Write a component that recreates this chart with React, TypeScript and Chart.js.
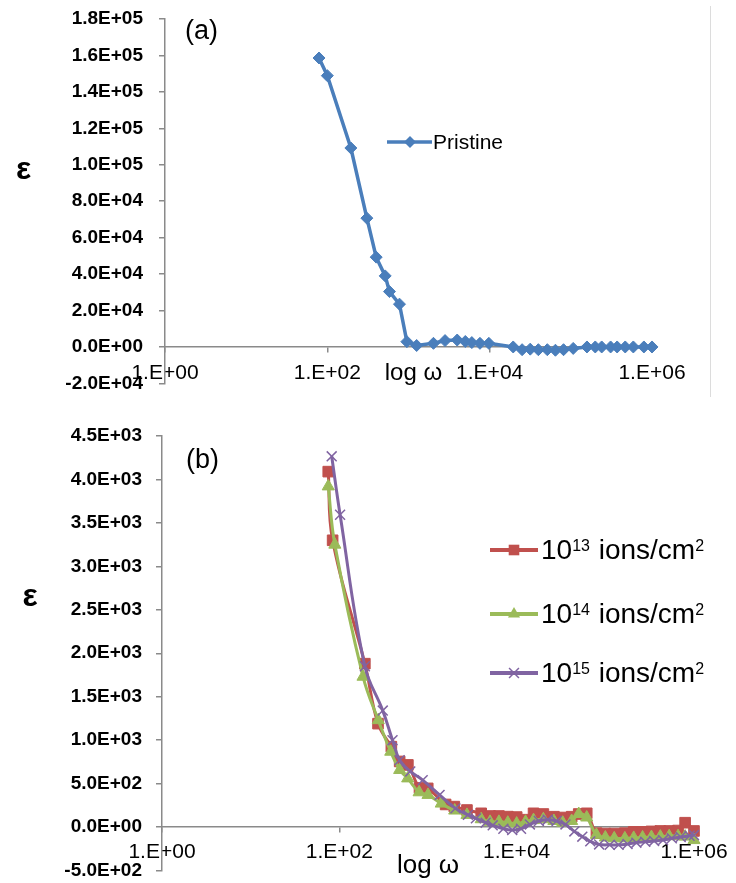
import React, { useEffect, useRef } from 'react';
import { Chart, registerables } from 'chart.js';

Chart.register(...registerables);

const FONT = '"Liberation Sans", Arial, sans-serif';
const AXIS = '#8a8a8a';

// ---------- shared axis data ----------
const xTickValues = [1, 100, 10000, 1000000];
const xTickLabels = ['1.E+00', '1.E+02', '1.E+04', '1.E+06'];
const xTitle = 'log ω';
const yTitle = 'ε';

// ---------- panel (a) ----------
const panelALabel = '(a)';
const pristineName = 'Pristine';
const pristineFreq = [79, 100, 195, 307, 400, 516, 583, 774, 955, 1260, 2030, 2820, 3980, 5010, 6030, 7590, 9770, 19500, 25100, 31600, 39800, 51300, 64600, 81300, 107000, 158000, 200000, 240000, 309000, 372000, 468000, 589000, 794000, 1000000];
const pristineEps = [158600, 148900, 109200, 70700, 49300, 39000, 30400, 23500, 2900, 800, 2000, 3500, 3800, 3000, 2400, 2000, 2000, 0, -1500, -1200, -1500, -1500, -1800, -1500, -800, 0, 0, 0, 0, 0, 0, 0, 0, 0];
const aYMin = -20000;
const aYMax = 180000;
const aYStep = 20000;

// ---------- panel (b) ----------
const panelBLabel = '(b)';
const seriesNames = ['10|13| ions/cm|2', '10|14| ions/cm|2', '10|15| ions/cm|2'];
const freq13 = [75, 84, 194, 273, 386, 479, 593, 802, 993, 1580, 1980, 2750, 3980, 5010, 6310, 7940, 10000, 12600, 15500, 20000, 26300, 33100, 41700, 50100, 61700, 79400, 100000, 126000, 166000, 209000, 263000, 331000, 417000, 525000, 661000, 794000, 1000000];
const eps13 = [4090, 3300, 1880, 1190, 925, 755, 715, 450, 445, 260, 235, 196, 158, 127, 127, 120, 115, 85, 158, 150, 119, 110, 119, 150, 158, -70, -75, -75, -70, -55, -55, -50, -45, -45, -40, 50, -45];
const freq14 = [75, 89, 185, 275, 380, 479, 590, 794, 1000, 1410, 2000, 2750, 3980, 5010, 6310, 7940, 10000, 12600, 15500, 20000, 26300, 33100, 41700, 50100, 61700, 79400, 100000, 126000, 166000, 209000, 263000, 331000, 417000, 525000, 661000, 794000, 1000000];
const eps14 = [3920, 3250, 1730, 1230, 867, 657, 560, 400, 370, 270, 190, 140, 90, 60, 60, 50, 40, 60, 80, 90, 70, 50, 70, 150, 110, -90, -120, -130, -130, -125, -120, -115, -110, -105, -105, -110, -150];
const freq15 = [82, 102, 194, 309, 398, 479, 631, 871, 1350, 2040, 2820, 3470, 4470, 5370, 7080, 8910, 11200, 14100, 17800, 22400, 28200, 35500, 44700, 55000, 67600, 85100, 112000, 141000, 178000, 224000, 282000, 355000, 447000, 562000, 708000, 891000, 1000000];
const eps15 = [4266, 3594, 1850, 1340, 1000, 770, 640, 540, 370, 215, 140, 100, 50, 20, -20, -35, -20, 30, 70, 85, 70, 30, -50, -111, -165, -200, -205, -205, -195, -180, -170, -160, -150, -130, -115, -100, -92];
const bYMin = -500;
const bYMax = 4500;
const bYStep = 500;

const COL_BLUE = '#4a7ebb';
const COL_RED = '#c0504d';
const COL_GREEN = '#9bbb59';
const COL_PURPLE = '#8064a2';

function fmtExp(v: number): string {
  if (Math.abs(v) < 1e-9) return '0.0E+00';
  const s = v.toExponential(1);
  const [m, e] = s.split('e');
  const sign = e[0] === '-' ? '-' : '+';
  const ex = String(Math.abs(parseInt(e, 10))).padStart(2, '0');
  return `${m}E${sign}${ex}`;
}

function zip(xs: number[], ys: number[]) {
  return xs.map((x, i) => ({ x, y: ys[i] }));
}

function drawMarker(ctx: CanvasRenderingContext2D, style: string, x: number, y: number, r: number, color: string) {
  ctx.save();
  ctx.fillStyle = color;
  ctx.strokeStyle = color;
  ctx.beginPath();
  if (style === 'rectRot') {
    ctx.moveTo(x, y - r);
    ctx.lineTo(x + r, y);
    ctx.lineTo(x, y + r);
    ctx.lineTo(x - r, y);
    ctx.closePath();
    ctx.fill();
  } else if (style === 'rect') {
    const s = r * Math.SQRT1_2;
    ctx.rect(x - s, y - s, 2 * s, 2 * s);
    ctx.fill();
  } else if (style === 'triangle') {
    let a = 0;
    ctx.moveTo(x + Math.sin(a) * r, y - Math.cos(a) * r);
    a += (2 * Math.PI) / 3;
    ctx.lineTo(x + Math.sin(a) * r, y - Math.cos(a) * r);
    a += (2 * Math.PI) / 3;
    ctx.lineTo(x + Math.sin(a) * r, y - Math.cos(a) * r);
    ctx.closePath();
    ctx.fill();
  } else if (style === 'crossRot') {
    const o = r * Math.SQRT1_2;
    ctx.lineWidth = 1.5;
    ctx.moveTo(x - o, y - o);
    ctx.lineTo(x + o, y + o);
    ctx.moveTo(x - o, y + o);
    ctx.lineTo(x + o, y - o);
    ctx.stroke();
  }
  ctx.restore();
}

function xScale(padding: number) {
  return {
    type: 'logarithmic',
    position: { y: 0 },
    min: xTickValues[0],
    max: xTickValues[xTickValues.length - 1],
    afterBuildTicks: (s: any) => {
      s.ticks = xTickValues.map((v) => ({ value: v }));
    },
    afterFit: (s: any) => {
      s.paddingLeft = 0;
      s.paddingRight = 0;
    },
    ticks: {
      callback: (_v: any, i: number) => xTickLabels[i],
      autoSkip: false,
      maxRotation: 0,
      minRotation: 0,
      color: '#000',
      font: { family: FONT, size: 21 },
      padding,
    },
    grid: { drawOnChartArea: false, drawTicks: true, tickLength: 5, color: AXIS, lineWidth: 1.5 },
    border: { display: true, color: AXIS, width: 1.5 },
  };
}

function yScale(min: number, max: number, step: number, width: number, padding: number) {
  return {
    type: 'linear',
    min,
    max,
    afterFit: (s: any) => {
      s.width = width;
      s.paddingTop = 0;
      s.paddingBottom = 0;
    },
    ticks: {
      stepSize: step,
      callback: (v: any) => fmtExp(Number(v)),
      color: '#000',
      font: { family: FONT, size: 19, weight: 'bold' },
      padding,
    },
    grid: { drawOnChartArea: false, drawTicks: true, tickLength: 6, color: AXIS, lineWidth: 1.5 },
    border: { display: true, color: AXIS, width: 1.5 },
  };
}

const panelAPlugin = {
  id: 'panelAText',
  afterDraw(chart: any) {
    const ctx: CanvasRenderingContext2D = chart.ctx;
    const xs = chart.scales.x;
    ctx.save();
    ctx.fillStyle = '#000';
    ctx.textAlign = 'left';
    ctx.textBaseline = 'middle';
    ctx.font = `27px ${FONT}`;
    ctx.fillText(panelALabel, 185, 32);
    ctx.font = `bold 32px ${FONT}`;
    ctx.textAlign = 'center';
    ctx.fillText(yTitle, 23.5, 170);
    ctx.font = `24px ${FONT}`;
    ctx.textBaseline = 'alphabetic';
    ctx.fillText(xTitle, (xs.left + xs.right) / 2 + 5, 380);
    // legend
    ctx.strokeStyle = COL_BLUE;
    ctx.lineWidth = 3.5;
    ctx.beginPath();
    ctx.moveTo(387, 142);
    ctx.lineTo(432, 142);
    ctx.stroke();
    drawMarker(ctx, 'rectRot', 410, 142, 6, COL_BLUE);
    ctx.fillStyle = '#000';
    ctx.textAlign = 'left';
    ctx.textBaseline = 'middle';
    ctx.font = `21px ${FONT}`;
    ctx.fillText(pristineName, 433, 143);
    // faint frame edge
    ctx.strokeStyle = '#dcdcdc';
    ctx.lineWidth = 1;
    ctx.beginPath();
    ctx.moveTo(710.5, 6);
    ctx.lineTo(710.5, 397);
    ctx.stroke();
    ctx.restore();
  },
};

const panelBPlugin = {
  id: 'panelBText',
  afterDraw(chart: any) {
    const ctx: CanvasRenderingContext2D = chart.ctx;
    const xs = chart.scales.x;
    ctx.save();
    ctx.fillStyle = '#000';
    ctx.textAlign = 'left';
    ctx.textBaseline = 'middle';
    ctx.font = `27px ${FONT}`;
    ctx.fillText(panelBLabel, 186, 51);
    ctx.font = `bold 32px ${FONT}`;
    ctx.textAlign = 'center';
    ctx.fillText(yTitle, 30, 187);
    ctx.font = `26px ${FONT}`;
    ctx.textBaseline = 'alphabetic';
    ctx.fillText(xTitle, (xs.left + xs.right) / 2, 463);
    // legend
    const styles = ['rect', 'triangle', 'crossRot'];
    const radii = [7.5, 7, 7];
    const cols = [COL_RED, COL_GREEN, COL_PURPLE];
    const rowsY = [140, 204, 263];
    seriesNames.forEach((name, i) => {
      const y = rowsY[i];
      ctx.strokeStyle = cols[i];
      ctx.lineWidth = 4;
      ctx.beginPath();
      ctx.moveTo(490, y);
      ctx.lineTo(538, y);
      ctx.stroke();
      drawMarker(ctx, styles[i], 514, y, radii[i], cols[i]);
      const parts = name.split('|');
      let x = 541;
      const base = y + 9;
      ctx.fillStyle = '#000';
      ctx.textAlign = 'left';
      ctx.textBaseline = 'alphabetic';
      parts.forEach((p, k) => {
        const sup = k % 2 === 1;
        ctx.font = sup ? `16px ${FONT}` : `28px ${FONT}`;
        ctx.fillText(p, x, sup ? base - 8 : base);
        x += ctx.measureText(p).width + (sup ? 1 : 0);
      });
    });
    ctx.restore();
  },
};

function ChartCanvas({ config, width, height, top }: { config: any; width: number; height: number; top: number }) {
  const ref = useRef<HTMLCanvasElement | null>(null);
  useEffect(() => {
    if (!ref.current) return;
    const chart = new Chart(ref.current, config);
    return () => chart.destroy();
  }, []);
  return (
    <canvas
      ref={ref}
      width={width}
      height={height}
      style={{ position: 'absolute', left: 0, top, width, height, display: 'block' }}
    />
  );
}

const commonOptions = {
  animation: false,
  responsive: false,
  maintainAspectRatio: false,
  events: [],
  plugins: { legend: { display: false }, tooltip: { enabled: false } },
};

const configA = {
  type: 'scatter',
  data: {
    datasets: [
      {
        label: pristineName,
        data: zip(pristineFreq, pristineEps),
        showLine: true,
        borderColor: COL_BLUE,
        backgroundColor: COL_BLUE,
        borderWidth: 3.5,
        tension: 0,
        pointStyle: 'rectRot',
        pointRadius: 6,
        pointBackgroundColor: COL_BLUE,
        pointBorderColor: COL_BLUE,
        pointBorderWidth: 1,
        clip: false,
      },
    ],
  },
  options: {
    ...commonOptions,
    layout: { padding: { left: 0, top: 19, right: 84, bottom: 21.6 } },
    scales: {
      x: xScale(9),
      y: yScale(aYMin, aYMax, aYStep, 165, 16),
    },
  },
  plugins: [panelAPlugin],
};

const configB = {
  type: 'scatter',
  data: {
    datasets: [
      {
        label: seriesNames[0],
        data: zip(freq13, eps13),
        showLine: true,
        borderColor: COL_RED,
        backgroundColor: COL_RED,
        borderWidth: 3,
        tension: 0.4,
        pointStyle: 'rect',
        pointRadius: 7.5,
        pointBackgroundColor: COL_RED,
        pointBorderColor: COL_RED,
        pointBorderWidth: 1,
        order: 3,
        clip: false,
      },
      {
        label: seriesNames[1],
        data: zip(freq14, eps14),
        showLine: true,
        borderColor: COL_GREEN,
        backgroundColor: COL_GREEN,
        borderWidth: 3,
        tension: 0.4,
        pointStyle: 'triangle',
        pointRadius: 7,
        pointBackgroundColor: COL_GREEN,
        pointBorderColor: COL_GREEN,
        pointBorderWidth: 1,
        order: 2,
        clip: false,
      },
      {
        label: seriesNames[2],
        data: zip(freq15, eps15),
        showLine: true,
        borderColor: COL_PURPLE,
        backgroundColor: COL_PURPLE,
        borderWidth: 3,
        tension: 0.4,
        pointStyle: 'crossRot',
        pointRadius: 7,
        pointBackgroundColor: COL_PURPLE,
        pointBorderColor: COL_PURPLE,
        pointBorderWidth: 1.5,
        order: 1,
        clip: false,
      },
    ],
  },
  options: {
    ...commonOptions,
    layout: { padding: { left: 0, top: 26, right: 42, bottom: 12.5 } },
    scales: {
      x: xScale(7.5),
      y: yScale(bYMin, bYMax, bYStep, 162, 14),
    },
  },
  plugins: [panelBPlugin],
};

export default function App() {
  return (
    <div style={{ position: 'absolute', left: 0, top: 0, width: 736, height: 883, background: '#fff', overflow: 'hidden' }}>
      <ChartCanvas config={configA} width={736} height={405} top={0} />
      <ChartCanvas config={configB} width={736} height={473} top={410} />
    </div>
  );
}
